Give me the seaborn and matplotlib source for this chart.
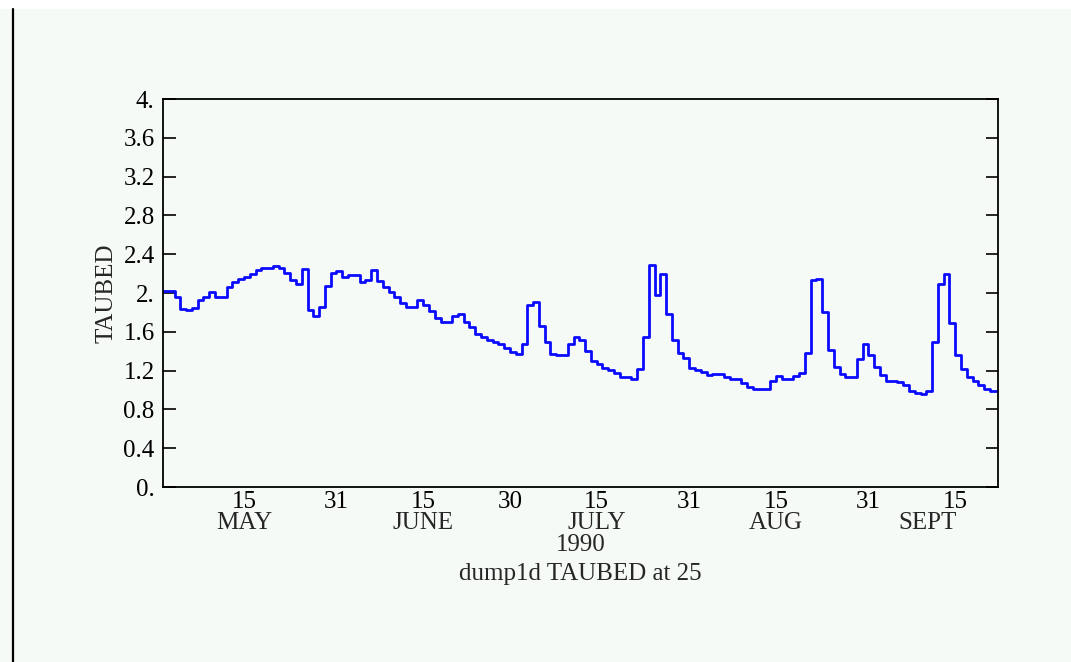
import numpy as np
import pandas as pd
import seaborn as sns
import matplotlib.pyplot as plt
from matplotlib.lines import Line2D
from matplotlib.patches import Rectangle

# daily TAUBED at 25, one value per day starting 1 May 1990
taubed = [
    2.02, 2.02, 1.96, 1.84, 1.82, 1.85, 1.93, 1.96, 2.01, 1.96,
    1.96, 2.06, 2.11, 2.14, 2.16, 2.20, 2.24, 2.26, 2.26, 2.28,
    2.26, 2.21, 2.13, 2.09, 2.25, 1.82, 1.76, 1.86, 2.07, 2.21,
    2.23, 2.17, 2.19, 2.19, 2.11, 2.13, 2.24, 2.12, 2.06, 2.01,
    1.96, 1.90, 1.86, 1.86, 1.93, 1.88, 1.81, 1.74, 1.70, 1.70,
    1.76, 1.78, 1.70, 1.65, 1.58, 1.55, 1.52, 1.49, 1.47, 1.43,
    1.39, 1.37, 1.47, 1.88, 1.91, 1.66, 1.49, 1.37, 1.36, 1.36,
    1.47, 1.55, 1.52, 1.40, 1.30, 1.27, 1.23, 1.21, 1.18, 1.13,
    1.13, 1.11, 1.22, 1.55, 2.29, 1.98, 2.20, 1.78, 1.52, 1.38,
    1.33, 1.23, 1.21, 1.19, 1.15, 1.16, 1.16, 1.13, 1.11, 1.11,
    1.07, 1.03, 1.01, 1.01, 1.01, 1.09, 1.14, 1.11, 1.11, 1.14,
    1.18, 1.38, 2.13, 2.14, 1.80, 1.41, 1.24, 1.17, 1.13, 1.13,
    1.32, 1.47, 1.36, 1.24, 1.15, 1.09, 1.09, 1.08, 1.05, 0.99,
    0.97, 0.96, 0.99, 1.49, 2.09, 2.20, 1.69, 1.36, 1.22, 1.13,
    1.09, 1.05, 1.01, 0.99, 0.99,
]

# x ticks in days since 1 May 1990
mid_days = [14, 45, 75, 106, 137]
mid_labels = ["15", "15", "15", "15", "15"]
end_days = [30, 60, 91, 122]
end_labels = ["31", "30", "31", "31"]
months = ["MAY", "JUNE", "JULY", "AUG", "SEPT"]
year = "1990"

y_ticks = [0.0, 0.4, 0.8, 1.2, 1.6, 2.0, 2.4, 2.8, 3.2, 3.6, 4.0]
y_labels = ["0.", "0.4", "0.8", "1.2", "1.6", "2.", "2.4", "2.8", "3.2", "3.6", "4."]

# repeat last value so the final day gets its own step
df = pd.DataFrame({
    "day": np.arange(len(taubed) + 1),
    "TAUBED": taubed + [taubed[-1]],
})

sns.set_style("white")
plt.rcParams["font.family"] = ["Liberation Serif", "DejaVu Serif"]

fs = 18
bg = "#f6faf7"
W, H = 1071, 662
fig = plt.figure(figsize=(W / 100, H / 100), dpi=100)
fig.patch.set_facecolor("white")
fig.add_artist(Rectangle((0, 0), 1, 1 - 9 / H, transform=fig.transFigure,
                         facecolor=bg, edgecolor="none", zorder=-10))
fig.add_artist(Line2D([13 / W, 13 / W], [0, 1 - 9 / H], transform=fig.transFigure,
                      color="black", lw=1.6))

ax = fig.add_axes([163 / W, 1 - 487 / H, 835 / W, 388 / H])
ax.set_facecolor(bg)

sns.lineplot(data=df, x="day", y="TAUBED", drawstyle="steps-post",
             color="#0a0aff", linewidth=2.0, ax=ax)

ax.set_xlim(0, 144.4)
ax.set_ylim(0, 4)

ax.set_yticks(y_ticks)
ax.set_yticklabels(y_labels)
ax.set_xticks(end_days)
ax.set_xticklabels(end_labels)
ax.set_xticks(mid_days, minor=True)
ax.set_xticklabels(mid_labels, minor=True)

ax.tick_params(axis="y", which="major", direction="in", length=9, width=1.2,
               right=True, left=True, labelsize=fs, pad=6, colors="black")
ax.tick_params(axis="x", which="major", direction="in", length=9, width=1.2,
               labelsize=fs, pad=3, colors="black")
ax.tick_params(axis="x", which="minor", direction="in", length=5, width=1.2,
               labelsize=fs, pad=3, colors="black")

for side in ["left", "right", "top", "bottom"]:
    ax.spines[side].set_visible(True)
    ax.spines[side].set_color("black")
    ax.spines[side].set_linewidth(1.3)

ax.set_xlabel("")
ax.set_ylabel("TAUBED", fontsize=fs, labelpad=4)

xt = ax.get_xaxis_transform()
for d, m in zip(mid_days, months):
    if m == "SEPT":
        ax.text(d + 0.3, -0.092, m, transform=xt, ha="right", va="center", fontsize=fs)
    else:
        ax.text(d, -0.092, m, transform=xt, ha="center", va="center", fontsize=fs)

ax.text(0.5, -0.150, year, transform=ax.transAxes, ha="center", va="center", fontsize=fs)
ax.text(0.5, -0.225, "dump1d TAUBED at 25", transform=ax.transAxes,
        ha="center", va="center", fontsize=fs)

fig.savefig("out.png", dpi=100, facecolor=fig.get_facecolor())
